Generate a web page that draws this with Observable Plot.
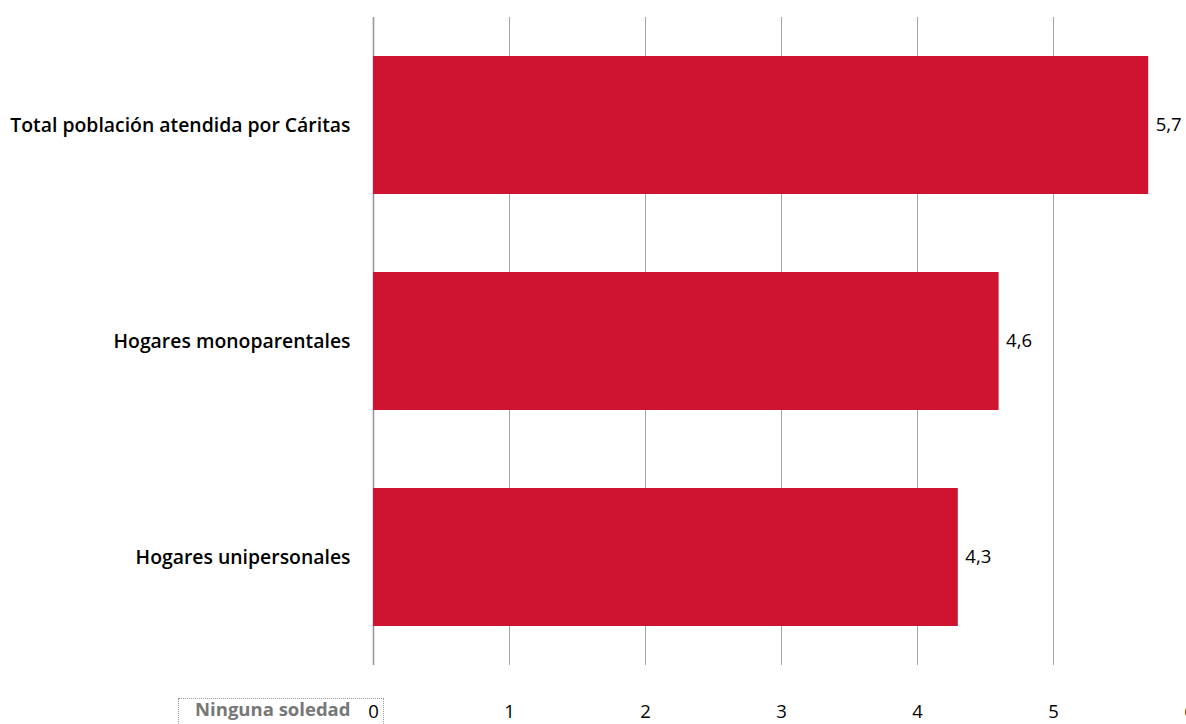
<!DOCTYPE html>
<html>
<head>
<meta charset="utf-8">
<script src="https://cdn.jsdelivr.net/npm/d3@7"></script>
<script src="https://cdn.jsdelivr.net/npm/@observablehq/plot@0.6"></script>
<style>
  html, body { margin: 0; padding: 0; background: #fff; overflow: hidden; }
  #wrap { position: relative; width: 1186px; height: 724px; }
  #box { position: absolute; left: 178px; top: 698px; width: 206px; height: 40px; border: 1px dotted #999; box-sizing: border-box; pointer-events: none; }
</style>
</head>
<body>
<div id="wrap"><div id="box"></div></div>
<script>
const categories = ["Total población atendida por Cáritas", "Hogares monoparentales", "Hogares unipersonales"];
const values = [5.7, 4.6, 4.3];
const xTicks = [0, 1, 2, 3, 4, 5, 6];
const axisLabel = "Ninguna soledad";

const data = categories.map((c, i) => ({category: c, value: values[i]}));
const fmt = v => String(v).replace(".", ",");
const font = "'Open Sans', Lato, sans-serif";

const chart = Plot.plot({
  width: 1186,
  height: 724,
  marginLeft: 373,
  marginTop: 17,
  marginBottom: 59,
  marginRight: 0,
  style: {fontFamily: font, fontSize: "18px", color: "#000", background: "#fff", overflow: "visible"},
  x: {domain: [0, 6], range: [373, 1189], ticks: xTicks},
  y: {domain: categories, paddingInner: 0.36, paddingOuter: 0.18, label: null},
  marks: [
    Plot.gridX(xTicks, {stroke: "#a6a6a6", strokeOpacity: 1, strokeWidth: 1}),
    Plot.ruleX([0], {stroke: "#999", strokeWidth: 1.6}),
    Plot.barX(data, {x: "value", y: "category", fill: "#CE1430"}),
    Plot.text(data, {x: "value", y: "category", text: d => fmt(d.value), dx: 7, textAnchor: "start", fill: "#000", fontSize: 18.5}),
    Plot.axisX(xTicks, {tickSize: 0, tickPadding: 39, fontSize: 18.5, label: null, tickFormat: d => String(d)}),
    Plot.axisY({tickSize: 0, tickPadding: 23, fontSize: 19.4, fontWeight: 600, label: null}),
    Plot.text([axisLabel], {x: 0, frameAnchor: "bottom", dy: 50, dx: -23, textAnchor: "end", fill: "#777", fontWeight: 700, fontSize: 18.5})
  ]
});
document.getElementById("wrap").prepend(chart);
</script>
</body>
</html>
